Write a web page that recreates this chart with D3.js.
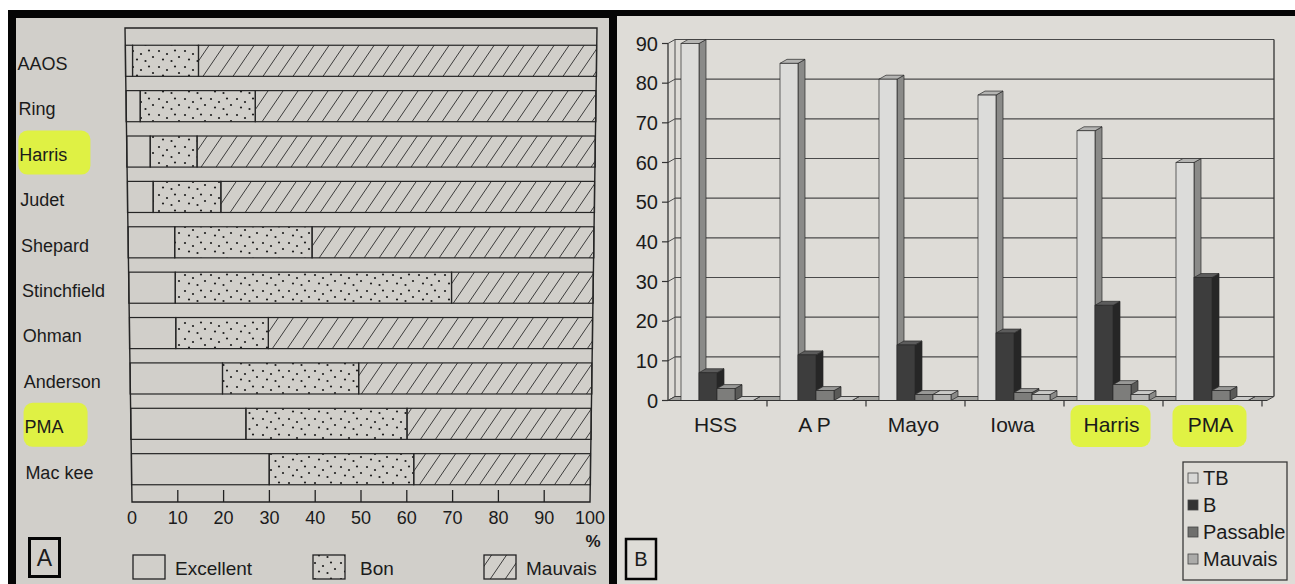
<!DOCTYPE html>
<html><head><meta charset="utf-8">
<script src="https://cdn.jsdelivr.net/npm/d3@7"></script>
<style>
html,body{margin:0;padding:0;background:#fff;}
svg text{font-family:"Liberation Sans",Arial,Helvetica,sans-serif;fill:#1b1b1b;}
</style></head>
<body>
<svg id="c" width="1295" height="584"></svg>
<script>
// ---------- Panel A data ----------
const catsA = ["AAOS","Ring","Harris","Judet","Shepard","Stinchfield","Ohman","Anderson","PMA","Mac kee"];
const excellent = [1.5, 3, 5, 5.5, 10, 10, 10, 20, 25, 30];
const bon       = [14, 24.5, 10, 14.5, 29.5, 59.5, 20, 29.5, 35, 31.5];
const mauvais   = [84.5, 72.5, 85, 80, 60.5, 30.5, 70, 50.5, 40, 38.5];
const ticksA = [0,10,20,30,40,50,60,70,80,90,100];
const seriesA = ["Excellent","Bon","Mauvais"];
const highlightA = ["Harris","PMA"];

// ---------- Panel B data ----------
const catsB = ["HSS","A P","Mayo","Iowa","Harris","PMA"];
const seriesB = ["TB","B","Passable","Mauvais"];
const tb       = [90, 85, 81, 77, 68, 60];
const bVals    = [7, 11.5, 14, 17, 24, 31];
const passable = [3, 2.5, 1.5, 2, 4, 2.5];
const mauvaisB = [0, 0, 1.5, 1.5, 1.5, 0];
const ticksB = [0,10,20,30,40,50,60,70,80,90];
const highlightB = ["Harris","PMA"];

const svg = d3.select("#c");
const defs = svg.append("defs");

// patterns
const dots = defs.append("pattern").attr("id","dots").attr("patternUnits","userSpaceOnUse")
  .attr("width",26).attr("height",16);
[[3,3],[11,6],[19,2.5],[7,11.5],[15.5,13],[23,9]].forEach(p=>{
  dots.append("circle").attr("cx",p[0]).attr("cy",p[1]).attr("r",1.1).attr("fill","#1e1e1e");
});
const hatch = defs.append("pattern").attr("id","hatch").attr("patternUnits","userSpaceOnUse")
  .attr("width",15).attr("height",22);
hatch.append("path").attr("d","M0,22 L15,0 M-15,22 L0,0 M15,22 L30,0")
  .attr("stroke","#333").attr("stroke-width",0.95).attr("fill","none");

// ---------- photo frame ----------
svg.append("rect").attr("x",0).attr("y",0).attr("width",1295).attr("height",584).attr("fill","#ffffff");
svg.append("rect").attr("x",8).attr("y",10).attr("width",1287).attr("height",574).attr("fill","#050505");
svg.append("rect").attr("x",16).attr("y",18).attr("width",593).attr("height",566).attr("fill","#d1cfca");
svg.append("rect").attr("x",617).attr("y",16).attr("width",678).attr("height",568).attr("fill","#dedcd7");

// ================= PANEL A =================
const gA = svg.append("g");
const topA = 28, botA = 502;
const leftEdge = d3.scaleLinear().domain([topA,botA]).range([125,132]);
const rightEdge = d3.scaleLinear().domain([topA,botA]).range([597,590]);
const labelX = d3.scaleLinear().domain([topA,botA]).range([17,26]);
const yA = d3.scaleBand().domain(catsA).range([topA,botA]).paddingInner(0.315).paddingOuter(0.38);
const rowScale = y => d3.scaleLinear().domain([0,100]).range([leftEdge(y), rightEdge(y)]);

// highlights (behind labels)
highlightA.forEach(c=>{
  const yc = yA(c)+yA.bandwidth()/2+3;
  const w = c==="Harris"?72:64;
  gA.append("rect").attr("x",labelX(yc)-1).attr("y",yc-24).attr("width",w).attr("height",44)
    .attr("rx",9).attr("fill","#dff23c").attr("opacity",0.95);
});

// frame
gA.append("polygon")
  .attr("points",[[leftEdge(topA),topA],[rightEdge(topA),topA],[rightEdge(botA),botA],[leftEdge(botA),botA]].map(p=>p.join(",")).join(" "))
  .attr("fill","none").attr("stroke","#222").attr("stroke-width",1.4);

const fills = {Excellent:"none", Bon:"url(#dots)", Mauvais:"url(#hatch)"};
catsA.forEach((c,i)=>{
  const y0 = yA(c), h = yA.bandwidth();
  const sc = rowScale(y0+h/2);
  const segs = [excellent[i], bon[i], mauvais[i]];
  let acc = 0;
  segs.forEach((v,k)=>{
    gA.append("rect").attr("x",sc(acc)).attr("y",y0).attr("width",sc(acc+v)-sc(acc)).attr("height",h)
      .attr("fill",fills[seriesA[k]]).attr("stroke","#252525").attr("stroke-width",1.2);
    acc += v;
  });
  gA.append("text").attr("x",labelX(y0+h/2)).attr("y",y0+h/2+3).attr("dy","0.35em")
    .attr("font-size",18).text(c);
});

// axis ticks & labels
const xBot = rowScale(botA);
ticksA.forEach(t=>{
  if(t>0 && t<100){
    gA.append("line").attr("x1",xBot(t)).attr("x2",xBot(t)).attr("y1",botA-12).attr("y2",botA)
      .attr("stroke","#222").attr("stroke-width",1.3);
  }
  gA.append("text").attr("x",xBot(t)).attr("y",518).attr("dy","0.35em").attr("text-anchor","middle")
    .attr("font-size",18).text(t);
});
gA.append("text").attr("x",593).attr("y",541).attr("dy","0.35em").attr("text-anchor","middle")
  .attr("font-size",17).attr("font-weight","bold").text("%");

// legend A
const legA = [{x:133,tx:175},{x:313,tx:360},{x:484,tx:526}];
seriesA.forEach((s,k)=>{
  gA.append("rect").attr("x",legA[k].x).attr("y",555).attr("width",32).attr("height",24)
    .attr("fill",fills[s]).attr("stroke","#222").attr("stroke-width",1.3);
  gA.append("text").attr("x",legA[k].tx).attr("y",568).attr("dy","0.35em").attr("font-size",19).text(s);
});
gA.append("rect").attr("x",29.5).attr("y",538.5).attr("width",30).attr("height",38)
  .attr("fill","none").attr("stroke","#050505").attr("stroke-width",3);
gA.append("text").attr("x",44.5).attr("y",558).attr("dy","0.35em").attr("text-anchor","middle")
  .attr("font-size",23).text("A");

// ================= PANEL B =================
const gB = svg.append("g");
const yBk = d3.scaleLinear().domain([0,90]).range([396.5,39.5]);   // back wall
const D = {dx:7, dy:-4};
const yF = v => yBk(v) - D.dy;                                     // front plane
const xB = d3.scaleBand().domain(catsB).range([668,1262]);
const xS = d3.scaleBand().domain(seriesB).range([13, 13+4*18]);
const backL = 668 + D.dx, backR = 1274;

// highlights
highlightB.forEach(c=>{
  const cx = xB(c)+xB.bandwidth()/2;
  const w = c==="Harris"?80:74;
  gB.append("rect").attr("x",cx-w/2-3).attr("y",405).attr("width",w).attr("height",42)
    .attr("rx",9).attr("fill","#dff23c").attr("opacity",0.95);
});

// back wall gridlines
ticksB.forEach(t=>{
  gB.append("line").attr("x1",backL).attr("x2",backR).attr("y1",yBk(t)).attr("y2",yBk(t))
    .attr("stroke","#4a4a4a").attr("stroke-width",1.1);
  gB.append("line").attr("x1",668).attr("x2",backL).attr("y1",yF(t)).attr("y2",yBk(t))
    .attr("stroke","#4a4a4a").attr("stroke-width",1);
  gB.append("line").attr("x1",662).attr("x2",668).attr("y1",yF(t)).attr("y2",yF(t))
    .attr("stroke","#333").attr("stroke-width",1.2);
  gB.append("text").attr("x",658).attr("y",yF(t)).attr("dy","0.35em").attr("text-anchor","end")
    .attr("font-size",20).text(t);
});
gB.append("line").attr("x1",backL).attr("x2",backL).attr("y1",yBk(90)).attr("y2",yBk(0)).attr("stroke","#4a4a4a");
gB.append("line").attr("x1",backR).attr("x2",backR).attr("y1",yBk(90)).attr("y2",yBk(0)).attr("stroke","#333").attr("stroke-width",1.3);
gB.append("line").attr("x1",668).attr("x2",668).attr("y1",yF(90)).attr("y2",yF(0)).attr("stroke","#333").attr("stroke-width",1.3);

// floor
gB.append("polygon")
  .attr("points",[[668,yF(0)],[backR-D.dx,yF(0)],[backR,yBk(0)],[backL,yBk(0)]].map(p=>p.join(",")).join(" "))
  .attr("fill","#a3a3a0").attr("stroke","#3a3a3a").attr("stroke-width",0.9);

// bars
const colsB = {
  TB:{f:"#dcdcda", s:"#8a8a88", t:"#b4b4b2"},
  B:{f:"#3d3d3d", s:"#262626", t:"#5c5c5c"},
  Passable:{f:"#7d7d7b", s:"#5a5a58", t:"#999997"},
  Mauvais:{f:"#b6b6b4", s:"#8a8a88", t:"#cacac8"}
};
const valsB = {TB:tb, B:bVals, Passable:passable, Mauvais:mauvaisB};
catsB.forEach((c,i)=>{
  seriesB.forEach(s=>{
    const v = valsB[s][i];
    const x = xB(c)+xS(s), w = xS.bandwidth();
    const y1 = yF(v), y0 = yF(0);
    const col = colsB[s];
    const pts = a=>a.map(p=>p.join(",")).join(" ");
    gB.append("polygon").attr("points",pts([[x+w,y0],[x+w,y1],[x+w+D.dx,y1+D.dy],[x+w+D.dx,y0+D.dy]]))
      .attr("fill",col.s).attr("stroke","#2a2a2a").attr("stroke-width",0.7);
    gB.append("polygon").attr("points",pts([[x,y1],[x+w,y1],[x+w+D.dx,y1+D.dy],[x+D.dx,y1+D.dy]]))
      .attr("fill",col.t).attr("stroke","#2a2a2a").attr("stroke-width",0.7);
    gB.append("rect").attr("x",x).attr("y",y1).attr("width",w).attr("height",Math.max(0,y0-y1))
      .attr("fill",col.f).attr("stroke","#2a2a2a").attr("stroke-width",0.7);
  });
});

// category axis
gB.append("line").attr("x1",668).attr("x2",backR-D.dx).attr("y1",yF(0)).attr("y2",yF(0)).attr("stroke","#333").attr("stroke-width",1.2);
catsB.forEach((c,i)=>{
  const xe = xB(c)+xB.bandwidth();
  gB.append("line").attr("x1",xe).attr("x2",xe).attr("y1",yF(0)).attr("y2",yF(0)+6).attr("stroke","#333").attr("stroke-width",1.2);
  gB.append("text").attr("x",xB(c)+xB.bandwidth()/2-2).attr("y",425).attr("dy","0.35em")
    .attr("text-anchor","middle").attr("font-size",21).text(c);
});

// legend B
gB.append("rect").attr("x",1183).attr("y",462).attr("width",104).attr("height",118)
  .attr("fill","none").attr("stroke","#3a3a3a").attr("stroke-width",1.3);
const legCols = {TB:"#d8d8d6", B:"#333333", Passable:"#6f6f6d", Mauvais:"#ababa9"};
seriesB.forEach((s,k)=>{
  const yc = 478 + k*27;
  gB.append("rect").attr("x",1188).attr("y",yc-5).attr("width",10).attr("height",10)
    .attr("fill",legCols[s]).attr("stroke","#444").attr("stroke-width",0.8);
  gB.append("text").attr("x",1203).attr("y",yc).attr("dy","0.35em").attr("font-size",20).text(s);
});
gB.append("rect").attr("x",626).attr("y",539).attr("width",30).attr("height",40)
  .attr("fill","none").attr("stroke","#050505").attr("stroke-width",2.5);
gB.append("text").attr("x",641).attr("y",559).attr("dy","0.35em").attr("text-anchor","middle")
  .attr("font-size",20).text("B");
</script>
</body></html>
